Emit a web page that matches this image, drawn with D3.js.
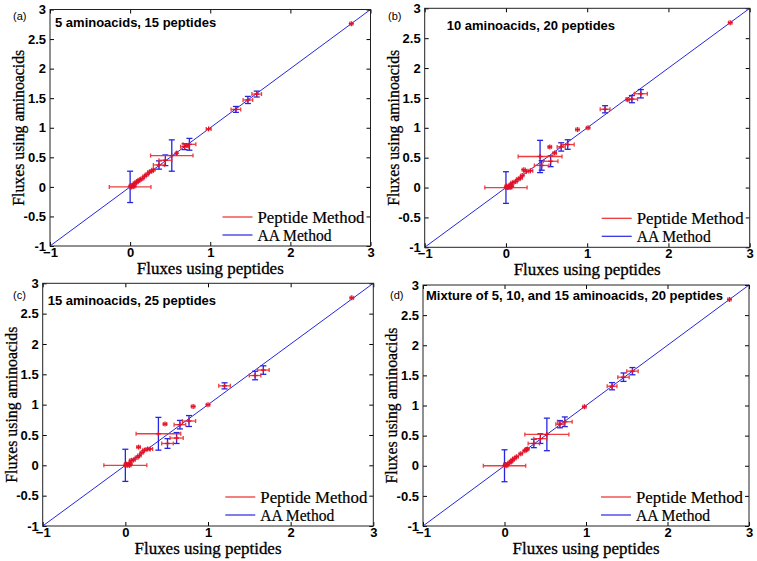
<!DOCTYPE html>
<html><head><meta charset="utf-8">
<script src="https://cdn.jsdelivr.net/npm/d3@7"></script>
<style>body{margin:0;background:#fff}svg{display:block}</style>
</head><body>
<svg id="chart" width="757" height="561"></svg>
<script>
// ---------- data ----------
const xTicks = [-1, 0, 1, 2, 3];
const yTicks = [-1, -0.5, 0, 0.5, 1, 1.5, 2, 2.5, 3];
const panelLetters = ["(a)", "(b)", "(c)", "(d)"];
const panelTitles = ["5 aminoacids, 15 peptides", "10 aminoacids, 20 peptides",
  "15 aminoacids, 25 peptides", "Mixture of 5, 10, and 15 aminoacids, 20 peptides"];
const xLabel = "Fluxes using peptides";
const yLabel = "Fluxes using aminoacids";
const legendLabels = ["Peptide Method", "AA Method"];

// panel (a)
const pepA    = [0, 0.01, 0.02, 0.03, 0.04, 0.05, 0.06, 0.08, 0.10, 0.12, 0.15, 0.18, 0.21, 0.24, 0.27, 0.29, 0.36, 0.44, 0.52, 0.58, 0.68, 0.71, 0.74, 0.98, 1.32, 1.47, 1.58, 2.76];
const aaA     = [0, 0.02, 0.00, 0.02, 0.03, 0.01, 0.06, 0.08, 0.10, 0.12, 0.14, 0.18, 0.21, 0.25, 0.27, 0.29, 0.37, 0.45, 0.53, 0.57, 0.68, 0.70, 0.72, 0.98, 1.31, 1.47, 1.57, 2.76];
const pepErrA = [0.26, 0.02, 0.02, 0.02, 0.02, 0.02, 0.02, 0.02, 0.02, 0.02, 0.02, 0.02, 0.02, 0.02, 0.02, 0.02, 0.07, 0.08, 0.265, 0.01, 0.05, 0.03, 0.08, 0.03, 0.06, 0.06, 0.06, 0.02];
const aaErrA  = [0.265, 0, 0, 0, 0, 0, 0, 0, 0, 0, 0, 0, 0, 0, 0, 0, 0.07, 0.09, 0.265, 0, 0.05, 0, 0.10, 0, 0.05, 0.06, 0.05, 0];

// panel (b)
const pepB    = [0, 0.01, 0.02, 0.03, 0.04, 0.05, 0.06, 0.07, 0.08, 0.12, 0.15, 0.18, 0.20, 0.22, 0.25, 0.30, 0.42, 0.44, 0.55, 0.54, 0.60, 0.68, 0.76, 0.88, 1.01, 1.22, 1.50, 1.55, 1.66, 2.76];
const aaB     = [0, 0.02, 0.00, 0.01, 0.03, 0.00, 0.05, 0.02, 0.08, 0.10, 0.14, 0.16, 0.20, 0.30, 0.27, 0.28, 0.52, 0.37, 0.44, 0.68, 0.58, 0.68, 0.72, 0.97, 1.00, 1.31, 1.47, 1.48, 1.57, 2.76];
const pepErrB = [0.26, 0.02, 0.03, 0.02, 0.03, 0.02, 0.02, 0.02, 0.02, 0.02, 0.02, 0.02, 0.02, 0.02, 0.03, 0.03, 0.27, 0.09, 0.09, 0.02, 0.02, 0.05, 0.08, 0.02, 0.02, 0.06, 0.02, 0.07, 0.08, 0.02];
const aaErrB  = [0.265, 0, 0, 0, 0, 0, 0, 0, 0, 0, 0, 0, 0, 0, 0, 0, 0.27, 0.08, 0.09, 0, 0, 0.07, 0.08, 0, 0, 0.06, 0, 0.06, 0.07, 0];

// panel (c)
const pepC    = [0, 0.01, 0.02, 0.03, 0.04, 0.05, 0.06, 0.07, 0.10, 0.14, 0.16, 0.17, 0.20, 0.23, 0.27, 0.30, 0.40, 0.51, 0.62, 0.48, 0.66, 0.77, 0.82, 1.00, 1.20, 1.57, 1.67, 2.74];
const aaC     = [0, 0.02, 0.00, 0.01, 0.02, 0.00, 0.02, 0.08, 0.09, 0.13, 0.30, 0.16, 0.21, 0.25, 0.27, 0.27, 0.52, 0.36, 0.45, 0.68, 0.67, 0.73, 0.97, 1.00, 1.31, 1.48, 1.57, 2.76];
const pepErrC = [0.26, 0.02, 0.03, 0.02, 0.03, 0.02, 0.02, 0.02, 0.02, 0.02, 0.02, 0.02, 0.02, 0.02, 0.02, 0.03, 0.27, 0.07, 0.08, 0.02, 0.07, 0.08, 0.02, 0.02, 0.07, 0.07, 0.07, 0.02];
const aaErrC  = [0.265, 0, 0, 0, 0, 0, 0, 0, 0, 0, 0, 0, 0, 0, 0, 0, 0.27, 0.08, 0.09, 0, 0.07, 0.09, 0, 0, 0.05, 0.07, 0.07, 0];

// panel (d)
const pepD    = [0, 0.01, 0.02, 0.03, 0.06, 0.08, 0.10, 0.12, 0.15, 0.20, 0.25, 0.27, 0.28, 0.36, 0.44, 0.52, 0.68, 0.74, 0.98, 1.32, 1.46, 1.57, 2.76];
const aaD     = [0, 0.02, 0.00, 0.02, 0.05, 0.07, 0.10, 0.12, 0.15, 0.20, 0.25, 0.27, 0.28, 0.37, 0.45, 0.52, 0.69, 0.73, 0.98, 1.32, 1.47, 1.57, 2.76];
const pepErrD = [0.26, 0.02, 0.02, 0.02, 0.02, 0.02, 0.02, 0.02, 0.02, 0.02, 0.02, 0.02, 0.02, 0.07, 0.08, 0.27, 0.05, 0.09, 0.02, 0.06, 0.07, 0.07, 0.02];
const aaErrD  = [0.265, 0, 0, 0, 0, 0, 0, 0, 0, 0, 0, 0, 0, 0.07, 0.08, 0.27, 0.06, 0.08, 0, 0.06, 0.07, 0.06, 0];

// ---------- layout ----------
const panels = [
  {left: 50,    top: 9.5,   right: 370.5, bottom: 246,   titleDx: 5,  titleDy: 13, letterX: 13,  letterY: 16,
   pep: pepA, aa: aaA, pepErr: pepErrA, aaErr: aaErrA},
  {left: 424.7, top: 8.3,   right: 749.7, bottom: 247.3, titleDx: 22, titleDy: 17, letterX: 388, letterY: 16,
   pep: pepB, aa: aaB, pepErr: pepErrB, aaErr: aaErrB},
  {left: 42.7,  top: 283.3, right: 373.3, bottom: 526,   titleDx: 5,  titleDy: 17, letterX: 13,  letterY: 295,
   pep: pepC, aa: aaC, pepErr: pepErrC, aaErr: aaErrC},
  {left: 423,   top: 285,   right: 749,   bottom: 526,   titleDx: 3,  titleDy: 10, letterX: 390, letterY: 295,
   pep: pepD, aa: aaD, pepErr: pepErrD, aaErr: aaErrD}
];

const RED = "#ec2a2a", RED_M = "#e0102c", BLUE = "#2626e0";
const SERIF = "Liberation Serif, Times New Roman, serif";
const SANS = "Liberation Sans, Arial, sans-serif";
const svg = d3.select("#chart");

panels.forEach((p, i) => {
  const x = d3.scaleLinear().domain([-1, 3]).range([p.left, p.right]);
  const y = d3.scaleLinear().domain([-1, 3]).range([p.bottom, p.top]);
  const g = svg.append("g");

  // diagonal
  g.append("line").attr("x1", x(-1)).attr("y1", y(-1)).attr("x2", x(3)).attr("y2", y(3))
    .attr("stroke", BLUE).attr("stroke-width", 1);

  const pts = p.pep.map((v, k) => ({x: v, y: p.aa[k], ex: p.pepErr[k], ey: p.aaErr[k]}));

  // blue vertical error bars
  const vb = g.append("g").attr("stroke", BLUE).attr("stroke-width", 1.3).attr("fill", "none");
  pts.filter(d => d.ey > 0).forEach(d => {
    vb.append("line").attr("x1", x(d.x)).attr("x2", x(d.x)).attr("y1", y(d.y - d.ey)).attr("y2", y(d.y + d.ey));
    [d.y - d.ey, d.y + d.ey].forEach(v => vb.append("line")
      .attr("x1", x(d.x) - 3).attr("x2", x(d.x) + 3).attr("y1", y(v)).attr("y2", y(v)));
  });

  // red horizontal error bars
  const hb = g.append("g").attr("stroke", RED).attr("stroke-width", 1.3).attr("fill", "none").attr("opacity", 0.9);
  pts.forEach(d => {
    hb.append("line").attr("x1", x(d.x - d.ex)).attr("x2", x(d.x + d.ex)).attr("y1", y(d.y)).attr("y2", y(d.y));
    [d.x - d.ex, d.x + d.ex].forEach(v => hb.append("line")
      .attr("x1", x(v)).attr("x2", x(v)).attr("y1", y(d.y) - 2).attr("y2", y(d.y) + 2));
  });

  // red + markers
  const mk = g.append("g").attr("stroke", RED_M).attr("stroke-width", 1.3);
  pts.forEach(d => {
    mk.append("line").attr("x1", x(d.x) - 2.5).attr("x2", x(d.x) + 2.5).attr("y1", y(d.y)).attr("y2", y(d.y));
    mk.append("line").attr("x1", x(d.x)).attr("x2", x(d.x)).attr("y1", y(d.y) - 2.5).attr("y2", y(d.y) + 2.5);
  });

  // axes (ticks inside, box on)
  const tickFont = g2 => g2.selectAll("text").attr("font-family", SANS)
    .attr("font-weight", "bold").attr("font-size", 13).attr("fill", "#000");
  const styleAxis = ax => { ax.select(".domain").remove(); ax.selectAll("line").attr("stroke", "#000"); };

  const bx = g.append("g").attr("transform", `translate(0,${p.bottom})`)
    .call(d3.axisBottom(x).tickValues(xTicks).tickFormat(d3.format("d")).tickSizeInner(-4).tickSizeOuter(0).tickPadding(4));
  styleAxis(bx); tickFont(bx); bx.selectAll("text").attr("dy", "0.55em");
  const tx = g.append("g").attr("transform", `translate(0,${p.top})`)
    .call(d3.axisTop(x).tickValues(xTicks).tickSizeInner(-4).tickSizeOuter(0).tickFormat(""));
  styleAxis(tx);
  const ly = g.append("g").attr("transform", `translate(${p.left},0)`)
    .call(d3.axisLeft(y).tickValues(yTicks).tickFormat(d => String(d)).tickSizeInner(-4).tickSizeOuter(0).tickPadding(4));
  styleAxis(ly); tickFont(ly);
  const ry = g.append("g").attr("transform", `translate(${p.right},0)`)
    .call(d3.axisRight(y).tickValues(yTicks).tickSizeInner(-4).tickSizeOuter(0).tickFormat(""));
  styleAxis(ry);

  g.append("rect").attr("x", p.left).attr("y", p.top).attr("width", p.right - p.left).attr("height", p.bottom - p.top)
    .attr("fill", "none").attr("stroke", "#222").attr("stroke-width", 1);

  // title & letter
  g.append("text").attr("x", p.left + p.titleDx).attr("y", p.top + p.titleDy).attr("dy", "0.35em")
    .attr("font-family", SANS).attr("font-weight", "bold").attr("font-size", 13)
    .text(panelTitles[i]);
  g.append("text").attr("x", p.letterX).attr("y", p.letterY).attr("dy", "0.35em")
    .attr("font-family", SANS).attr("font-size", 11)
    .text(panelLetters[i]);

  // axis labels
  const cx = (p.left + p.right) / 2, cy = (p.top + p.bottom) / 2;
  g.append("text").attr("x", cx).attr("y", p.bottom + 28).attr("text-anchor", "middle")
    .attr("font-family", SERIF).attr("font-size", 16.5).attr("stroke", "#000").attr("stroke-width", 0.3)
    .attr("textLength", 147).attr("lengthAdjust", "spacingAndGlyphs").text(xLabel);
  g.append("text").attr("transform", `translate(${p.left - 26},${cy}) rotate(-90)`).attr("text-anchor", "middle")
    .attr("font-family", SERIF).attr("font-size", 16.5).attr("stroke", "#000").attr("stroke-width", 0.3)
    .attr("textLength", 156).attr("lengthAdjust", "spacingAndGlyphs").text(yLabel);

  // legend
  const leg = [{c: RED, t: legendLabels[0], dy: -29, w: 107}, {c: BLUE, t: legendLabels[1], dy: -11, w: 74}];
  leg.forEach(l => {
    g.append("line").attr("x1", p.right - 148).attr("x2", p.right - 118)
      .attr("y1", p.bottom + l.dy).attr("y2", p.bottom + l.dy).attr("stroke", l.c).attr("stroke-width", 1.2);
    g.append("text").attr("x", p.right - 113).attr("y", p.bottom + l.dy).attr("dy", "0.35em")
      .attr("font-family", SERIF).attr("font-size", 16.5).attr("stroke", "#000").attr("stroke-width", 0.2)
      .attr("textLength", l.w).attr("lengthAdjust", "spacingAndGlyphs").text(l.t);
  });
});
</script>
</body></html>
